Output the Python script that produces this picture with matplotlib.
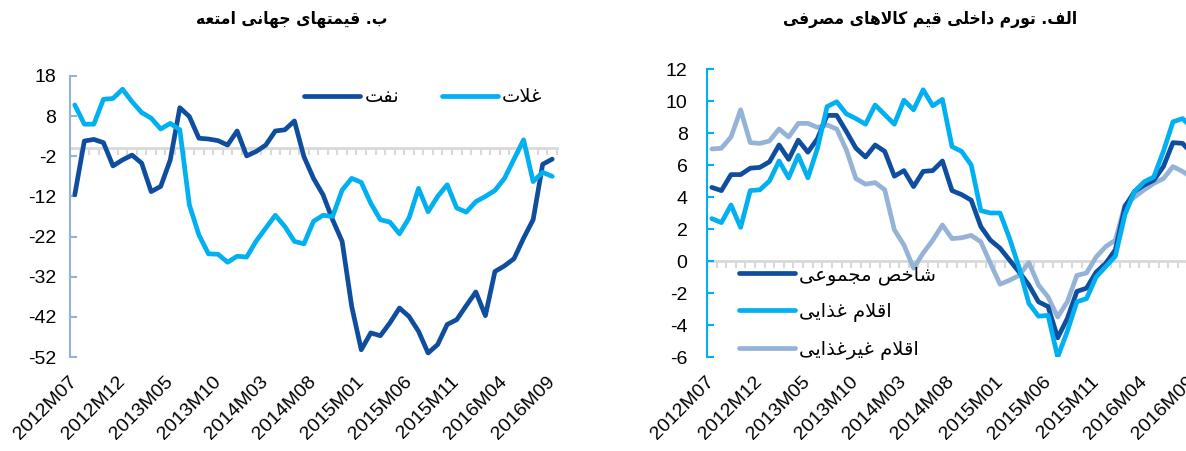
import numpy as np
import matplotlib
matplotlib.use("Agg")
import matplotlib.pyplot as plt

# =========================================
# DATA
# =========================================
MONTHS = [f"{2012 + (6 + k) // 12}M{(6 + k) % 12 + 1:02d}" for k in range(51)]  # 2012M07 .. 2016M09
TICK_IDX = list(range(0, 51, 5))

oil = [-11.6, 1.8, 2.2, 1.4, -4.4, -2.9, -1.7, -3.7, -10.8, -9.5,
       -2.9, 10.1, 7.9, 2.5, 2.3, 1.9, 0.8, 4.3, -1.9, -0.8,
       0.8, 4.3, 4.6, 6.8, -2.1, -7.5, -11.6, -17.8, -23.2, -39.4,
       -50.2, -46.0, -46.7, -43.5, -39.8, -41.9, -45.6, -51.0, -48.9, -43.9,
       -42.7, -39.2, -35.8, -41.7, -30.7, -29.3, -27.5, -22.4, -17.8, -4.0,
       -2.7]
grains = [10.8, 6.0, 6.0, 12.2, 12.4, 14.7, 11.6, 8.9, 7.5, 4.8,
          6.2, 4.6, -14.1, -21.6, -26.3, -26.4, -28.4, -26.9, -27.1, -23.1,
          -19.9, -16.7, -19.5, -23.2, -23.8, -18.2, -16.7, -17.0, -10.4, -7.5,
          -8.5, -13.7, -17.8, -18.4, -21.3, -17.4, -10.0, -15.8, -12.0, -9.1,
          -14.9, -15.9, -13.3, -12.0, -10.5, -7.5, -2.7, 2.1, -8.3, -6.0,
          -7.0]

headline = [4.6, 4.4, 5.4, 5.4, 5.8, 5.85, 6.2, 7.25, 6.35, 7.55,
            6.8, 7.65, 9.1, 9.1, 8.1, 7.05, 6.5, 7.25, 6.85, 5.3,
            5.65, 4.65, 5.6, 5.65, 6.25, 4.4, 4.15, 3.8, 2.15, 1.3,
            0.8, 0.05, -0.7, -1.5, -2.55, -2.85, -4.8, -3.6, -1.9, -1.7,
            -0.7, -0.15, 0.7, 3.4, 4.35, 4.75, 5.05, 5.9, 7.4, 7.35,
            6.7]
food = [2.65, 2.4, 3.5, 2.1, 4.4, 4.45, 5.0, 6.25, 5.2, 6.6,
        5.2, 7.05, 9.65, 9.95, 9.2, 8.9, 8.55, 9.75, 9.15, 8.55,
        10.05, 9.45, 10.7, 9.7, 10.1, 7.15, 6.85, 6.0, 3.15, 3.0,
        3.0, 1.4, -0.45, -2.65, -3.45, -3.4, -6.0, -4.4, -2.55, -2.35,
        -1.0, -0.35, 0.3, 2.9, 4.35, 4.95, 5.25, 6.85, 8.7, 8.9,
        8.3]
nonfood = [7.0, 7.05, 7.75, 9.45, 7.4, 7.35, 7.5, 8.25, 7.75, 8.6,
           8.6, 8.35, 8.5, 8.25, 6.95, 5.15, 4.8, 4.9, 4.45, 1.95,
           1.0, -0.45, 0.5, 1.3, 2.25, 1.4, 1.45, 1.6, 1.2, -0.15,
           -1.45, -1.2, -0.9, -0.1, -1.5, -2.25, -3.5, -2.55, -0.9, -0.75,
           0.25, 0.9, 1.3, 3.5, 4.0, 4.45, 4.85, 5.15, 5.9, 5.6,
           5.2]

LEFT_TITLE = "ب. قیمتهای جهانی امتعه"
RIGHT_TITLE = "الف. تورم داخلی قیم کالاهای مصرفی"
LEFT_NAMES = ["نفت", "غلات"]
RIGHT_NAMES = ["شاخص مجموعی", "اقلام غذایی", "اقلام غیرغذایی"]

DARK = "#0F4E9F"
LIGHT = "#00B0F0"
GREY = "#95B3D7"
ZERO = "#D9D9D9"


# =========================================
# SIMPLE ARABIC SHAPING (no bidi lib here)
# =========================================
FORMS = {  # isolated, final, initial, medial
    "ا": ("\uFE8D", "\uFE8E", None, None),
    "ب": ("\uFE8F", "\uFE90", "\uFE91", "\uFE92"),
    "ت": ("\uFE95", "\uFE96", "\uFE97", "\uFE98"),
    "ج": ("\uFE9D", "\uFE9E", "\uFE9F", "\uFEA0"),
    "خ": ("\uFEA5", "\uFEA6", "\uFEA7", "\uFEA8"),
    "د": ("\uFEA9", "\uFEAA", None, None),
    "ذ": ("\uFEAB", "\uFEAC", None, None),
    "ر": ("\uFEAD", "\uFEAE", None, None),
    "ش": ("\uFEB5", "\uFEB6", "\uFEB7", "\uFEB8"),
    "ص": ("\uFEB9", "\uFEBA", "\uFEBB", "\uFEBC"),
    "ع": ("\uFEC9", "\uFECA", "\uFECB", "\uFECC"),
    "غ": ("\uFECD", "\uFECE", "\uFECF", "\uFED0"),
    "ف": ("\uFED1", "\uFED2", "\uFED3", "\uFED4"),
    "ق": ("\uFED5", "\uFED6", "\uFED7", "\uFED8"),
    "ل": ("\uFEDD", "\uFEDE", "\uFEDF", "\uFEE0"),
    "م": ("\uFEE1", "\uFEE2", "\uFEE3", "\uFEE4"),
    "ن": ("\uFEE5", "\uFEE6", "\uFEE7", "\uFEE8"),
    "ه": ("\uFEE9", "\uFEEA", "\uFEEB", "\uFEEC"),
    "و": ("\uFEED", "\uFEEE", None, None),
    "ک": ("\uFB8E", "\uFB8F", "\uFB90", "\uFB91"),
    "ی": ("\uFBFC", "\uFBFD", "\uFBFE", "\uFBFF"),
}


def shape(text):
    chars = list(text)
    n = len(chars)

    def dual(c):
        return c in FORMS and FORMS[c][2] is not None

    res = []
    i = 0
    while i < n:
        c = chars[i]
        if c not in FORMS:
            res.append(c)
            i += 1
            continue
        prev_join = i > 0 and dual(chars[i - 1])
        if c == "ل" and i + 1 < n and chars[i + 1] == "ا":
            res.append("\uFEFC" if prev_join else "\uFEFB")
            i += 2
            continue
        next_join = dual(c) and i + 1 < n and chars[i + 1] in FORMS
        iso, fin, ini, med = FORMS[c]
        if prev_join and next_join:
            g = med
        elif prev_join:
            g = fin
        elif next_join:
            g = ini
        else:
            g = iso
        res.append(g)
        i += 1
    return "".join(reversed(res))


# =========================================
# STYLE
# =========================================
plt.rcParams["font.family"] = ["Liberation Sans", "DejaVu Sans"]
AR = ["DejaVu Sans"]
TICK_FS = 14


def style_axes(ax, yticks, spine_color, ypad):
    x = np.arange(len(MONTHS))
    ax.set_xlim(-0.5, len(MONTHS) - 0.5)
    ax.set_ylim(yticks[0], yticks[-1])
    ax.set_yticks(yticks)
    ax.set_yticklabels([str(v) for v in yticks], fontsize=TICK_FS)

    for s in ["top", "right", "bottom"]:
        ax.spines[s].set_visible(False)
    ax.spines["left"].set_color(spine_color)
    ax.spines["left"].set_linewidth(1.5)
    ax.tick_params(axis="y", direction="in", length=5, width=1.5,
                   color=spine_color, pad=ypad)

    ax.set_xticks(TICK_IDX)
    ax.set_xticklabels([MONTHS[i] for i in TICK_IDX], rotation=45,
                       ha="right", va="center", rotation_mode="anchor",
                       fontsize=TICK_FS)
    ax.tick_params(axis="x", length=0, pad=16)

    # zero line with category tick marks
    zx = ax.secondary_xaxis(0, transform=ax.transData)
    zx.spines["bottom"].set_color(ZERO)
    zx.spines["bottom"].set_linewidth(2)
    zx.set_xticks(np.arange(-0.5, len(MONTHS), 1.0))
    zx.tick_params(axis="x", direction="out", length=5, width=1.5,
                   color=ZERO, labelbottom=False)
    return x


fig = plt.figure(figsize=(11.86, 4.51), dpi=100)

# =========================================
# LEFT PANEL - world commodity prices
# =========================================
axl = fig.add_axes([70 / 1186, 1 - 357 / 451, 487 / 1186, 281 / 451])
x = style_axes(axl, list(range(-52, 19, 10)), GREY, 10)
axl.plot(x, oil, color=DARK, lw=3.4, solid_capstyle="round",
         label=shape(LEFT_NAMES[0]), zorder=3)
axl.plot(x, grains, color=LIGHT, lw=3.4, solid_capstyle="round",
         label=shape(LEFT_NAMES[1]), zorder=3)
fig.legend(handles=axl.get_lines(), ncol=2, frameon=False,
           loc="center left", bbox_to_anchor=(304 / 1186, 1 - 97 / 451),
           prop={"family": AR, "size": 14}, handlelength=2.9,
           handletextpad=0.2, columnspacing=2.2, borderpad=0,
           borderaxespad=0)
fig.text(292 / 1186, 1 - 19 / 451, shape(LEFT_TITLE), ha="center",
         va="center", fontsize=12.5, fontweight="heavy", family=AR,
         fontstretch="condensed")

# =========================================
# RIGHT PANEL - domestic consumer price inflation
# =========================================
axr = fig.add_axes([707 / 1186, 1 - 357 / 451, 490 / 1186, 288 / 451])
x = style_axes(axr, list(range(-6, 13, 2)), LIGHT, 14)
axr.plot(x, headline, color=DARK, lw=3.4, solid_capstyle="round",
         label=shape(RIGHT_NAMES[0]), zorder=3)
axr.plot(x, food, color=LIGHT, lw=3.4, solid_capstyle="round",
         label=shape(RIGHT_NAMES[1]), zorder=3)
axr.plot(x, nonfood, color=GREY, lw=3.4, solid_capstyle="round",
         label=shape(RIGHT_NAMES[2]), zorder=2)
fig.legend(handles=axr.get_lines(), ncol=1, frameon=False,
           loc="upper left", bbox_to_anchor=(739 / 1186, 1 - 265 / 451),
           prop={"family": AR, "size": 14}, handlelength=2.9,
           handletextpad=0.2, labelspacing=0.9, borderpad=0,
           borderaxespad=0)
fig.text(930 / 1186, 1 - 19 / 451, shape(RIGHT_TITLE), ha="center",
         va="center", fontsize=12.5, fontweight="heavy", family=AR,
         fontstretch="condensed")

fig.savefig("out.png", dpi=100)
